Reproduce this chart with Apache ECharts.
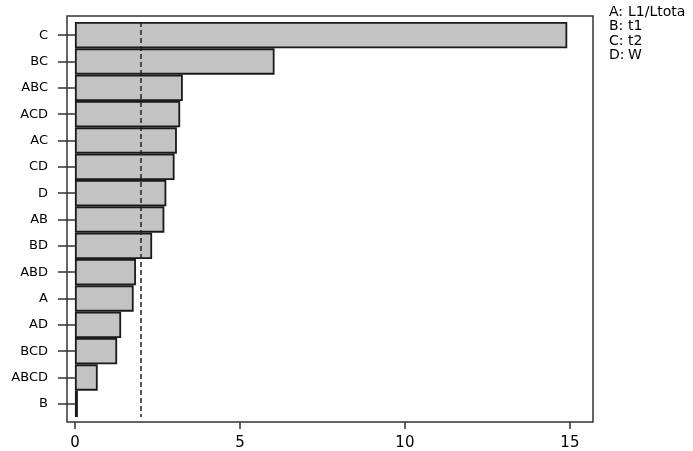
<!DOCTYPE html>
<html>
<head>
<meta charset="utf-8">
<script src="https://cdn.jsdelivr.net/npm/echarts@6/dist/echarts.min.js"></script>
<style>
  html, body { margin: 0; padding: 0; background: #fff; }
  #chart { width: 693px; height: 451px; }
</style>
</head>
<body>
<div id="chart"></div>
<script>
// standardized effects, largest at top
const terms = ['C', 'BC', 'ABC', 'ACD', 'AC', 'CD', 'D', 'AB', 'BD', 'ABD', 'A', 'AD', 'BCD', 'ABCD', 'B'];
const effects = [14.92, 6.05, 3.27, 3.19, 3.09, 3.02, 2.77, 2.71, 2.34, 1.85, 1.78, 1.40, 1.28, 0.69, 0.09];
const refLine = 1.98;
const xTicks = [0, 5, 10, 15];
const factorKeys = ['A:', 'B:', 'C:', 'D:'];
const factorNames = ['L1/Ltota', 't1', 't2', 'W'];

const font = '"DejaVu Sans", Verdana, sans-serif';

const chart = echarts.init(document.getElementById('chart'), null, { renderer: 'canvas' });

chart.setOption({
  animation: false,
  backgroundColor: '#fff',
  title: [
    {
      text: factorKeys.join('\n'),
      left: 609, top: 5, padding: 0,
      textStyle: { fontFamily: font, fontSize: 14, fontWeight: 'normal', color: '#000', lineHeight: 14.5 }
    },
    {
      text: factorNames.join('\n'),
      left: 628, top: 5, padding: 0,
      textStyle: { fontFamily: font, fontSize: 14, fontWeight: 'normal', color: '#000', lineHeight: 14.5 }
    }
  ],
  grid: [
    { left: 67, right: 100, top: 22, bottom: 34 },
    // outer frame
    { left: 67, right: 100, top: 16, bottom: 29, show: true, borderColor: '#333', borderWidth: 1.5 }
  ],
  xAxis: [
    {
      type: 'value',
      gridIndex: 0,
      min: -0.24,
      max: 15.7,
      offset: 5,
      interval: 5,
      splitLine: { show: false },
      axisLine: { show: false },
      axisTick: {
        show: true, length: 7,
        customValues: xTicks,
        lineStyle: { color: '#333', width: 1.5 }
      },
      axisLabel: {
        customValues: xTicks,
        margin: 14,
        fontFamily: font, fontSize: 15, color: '#000'
      }
    },
    { type: 'value', gridIndex: 1, show: false, min: 0, max: 1 }
  ],
  yAxis: [
    {
      type: 'category',
      gridIndex: 0,
      data: terms,
      inverse: true,
      axisLine: { show: false },
      axisTick: {
        show: true, alignWithLabel: true, length: 17,
        lineStyle: { color: '#333', width: 1.5 }
      },
      axisLabel: {
        margin: 19,
        fontFamily: font, fontSize: 13, color: '#000'
      }
    },
    { type: 'value', gridIndex: 1, show: false, min: 0, max: 1 }
  ],
  series: [
    {
      type: 'bar',
      xAxisIndex: 0,
      yAxisIndex: 0,
      data: effects,
      barCategoryGap: 0,
      itemStyle: {
        color: '#c3c3c3',
        borderColor: '#1a1a1a',
        borderWidth: 1.8
      },
      markLine: {
        silent: true,
        symbol: 'none',
        label: { show: false },
        lineStyle: { color: '#222', type: [5, 3], width: 1.5 },
        data: [{ xAxis: refLine }]
      }
    }
  ]
});
</script>
</body>
</html>
